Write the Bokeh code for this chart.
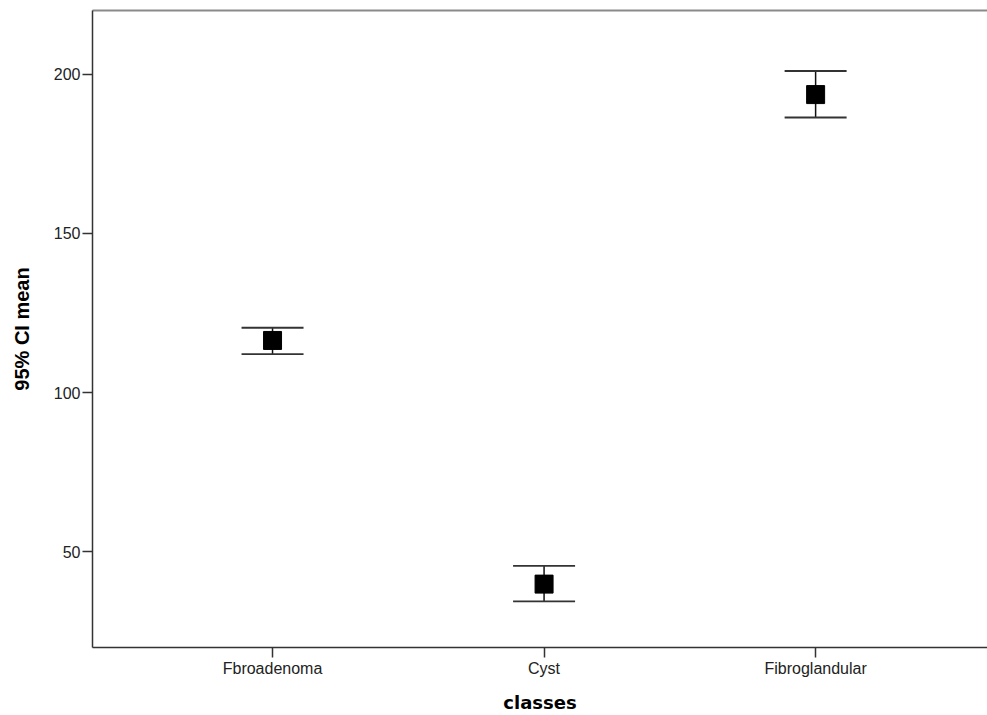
from bokeh.plotting import figure
from bokeh.models import ColumnDataSource, Whisker, TeeHead, FixedTicker, LinearAxis, Range1d
from bokeh.embed import file_html
from bokeh.resources import INLINE

categories = ["Fbroadenoma", "Cyst", "Fibroglandular"]
means = [116.4, 39.9, 193.6]
lower = [112.1, 34.5, 186.4]
upper = [120.4, 45.6, 201.0]
y_ticks = [50, 100, 150, 200]

xs = [i + 1 for i in range(len(categories))]
src = ColumnDataSource(dict(x=xs, mean=means, lower=lower, upper=upper, cat=categories))

p = figure(width=987, height=715, output_backend="svg", toolbar_location=None,
           x_range=Range1d(0.337, 3.633), y_range=Range1d(20, 220),
           min_border_left=92, min_border_right=0, min_border_top=10, min_border_bottom=68,
           x_axis_label="classes", y_axis_label="95% CI mean")
p.outline_line_color = None
p.grid.visible = False
p.background_fill_color = "white"
p.border_fill_color = "white"

xa = p.below[0]
ya = p.left[0]
xa.ticker = FixedTicker(ticks=xs)
xa.major_label_overrides = {x: c for x, c in zip(xs, categories)}
ya.ticker = FixedTicker(ticks=y_ticks)

for ax in (xa, ya):
    ax.axis_line_color = "#333333"
    ax.axis_line_width = 1.5
    ax.major_tick_line_color = "#333333"
    ax.major_tick_line_width = 1.5
    ax.major_tick_out = 10
    ax.major_tick_in = 0
    ax.minor_tick_out = 0
    ax.minor_tick_in = 0
    ax.major_label_text_font = "Liberation Sans"
    ax.major_label_text_font_size = "16px"
    ax.major_label_text_color = "#222222"
    ax.axis_label_text_color = "#000000"
    ax.axis_label_text_font_style = "bold"

xa.major_label_standoff = 2
xa.axis_label_standoff = 12
xa.axis_label_text_font = "DejaVu Sans"
xa.axis_label_text_font_size = "18px"
ya.major_label_standoff = 2
ya.axis_label_standoff = 18
ya.axis_label_text_font = "Liberation Sans"
ya.axis_label_text_font_size = "20px"

# top border line
top = LinearAxis(ticker=FixedTicker(ticks=[]), major_tick_out=0, major_tick_in=0,
                 minor_tick_out=0, minor_tick_in=0,
                 major_label_text_font_size="0px", axis_line_color="#8a8a8a", axis_line_width=2)
p.add_layout(top, "above")

w = Whisker(source=src, base="x", upper="upper", lower="lower",
            line_color="#111111", line_width=1.5,
            upper_head=TeeHead(size=62, line_color="#333333", line_width=1.8),
            lower_head=TeeHead(size=62, line_color="#333333", line_width=1.8))
p.add_layout(w)

p.scatter("x", "mean", source=src, marker="square", size=18,
          fill_color="black", line_color="black")

open("out.html", "w").write(file_html(p, INLINE))
